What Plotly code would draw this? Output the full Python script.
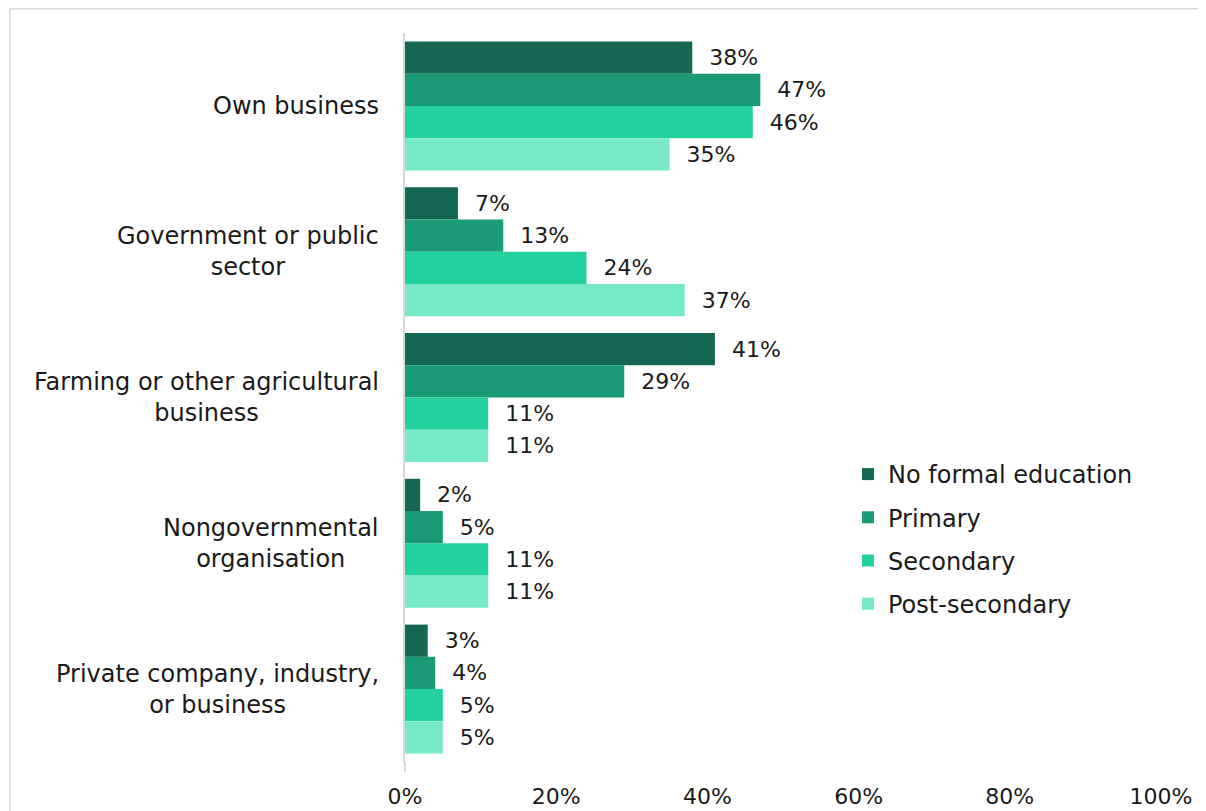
import plotly.graph_objects as go

categories = ["Own business", "Government or public<br>sector",
              "Farming or other agricultural<br>business",
              "Nongovernmental<br>organisation",
              "Private company, industry,<br>or business"]
series_names = ["No formal education", "Primary", "Secondary", "Post-secondary"]
no_formal = [38, 7, 41, 2, 3]
primary = [47, 13, 29, 5, 4]
secondary = [46, 24, 11, 11, 5]
post_secondary = [35, 37, 11, 11, 5]
series_values = [no_formal, primary, secondary, post_secondary]
colors = ["#146853", "#1b9a78", "#23d19f", "#75e9c8"]
x_ticks = [0, 20, 40, 60, 80, 100]
x_tick_labels = ["0%", "20%", "40%", "60%", "80%", "100%"]

FONT = "DejaVu Sans"
TXT = "#1a1a1a"

# page offset of the figure (body margin)
OFF = 8
FW, FH = 1206 - OFF, 811 - OFF
L, T, W, H = 405, 33, 756, 729   # plot area in page pixels


def px(x):
    return (x - L) / W


def py(y):
    return (T + H - y) / H


fig = go.Figure()
for name, vals, col in zip(series_names, series_values, colors):
    fig.add_trace(go.Bar(
        y=list(range(len(categories))), x=vals, name=name, orientation="h",
        marker=dict(color=col, line=dict(width=0)),
        text=["\u00a0\u00a0" + f"{v}%" for v in vals],
        textposition="outside", cliponaxis=False,
        textfont=dict(family=FONT, size=22, color=TXT),
        legendgroup=name,
    ))

annotations = []
for i, c in enumerate(categories):
    annotations.append(dict(
        x=0, xref="paper", y=i, yref="y", xanchor="right", yanchor="middle",
        xshift=-24, text=c, showarrow=False, align="center",
        font=dict(family=FONT, size=24, color=TXT)))

fig.update_layout(
    width=FW, height=FH,
    margin=dict(l=L - OFF, r=FW - (L - OFF) - W, t=T - OFF, b=FH - (T - OFF) - H,
                autoexpand=False),
    paper_bgcolor="white", plot_bgcolor="white",
    barmode="group", bargap=0.115, bargroupgap=0,
    showlegend=True,
    legend=dict(x=px(848), y=py(452), xanchor="left", yanchor="top",
                font=dict(family=FONT, size=24, color=TXT),
                tracegroupgap=9, traceorder="grouped",
                bgcolor="rgba(0,0,0,0)"),
    xaxis=dict(range=[0, 100], tickvals=x_ticks, ticktext=x_tick_labels,
               showgrid=False, zeroline=False, showline=False,
               ticks="outside", ticklen=15, tickcolor="rgba(0,0,0,0)",
               automargin=False,
               tickfont=dict(family=FONT, size=22, color=TXT)),
    yaxis=dict(range=[len(categories) - 0.5, -0.5], showticklabels=False,
               showgrid=False, zeroline=False, showline=True, automargin=False,
               linecolor="#d9d9d9", linewidth=2, ticks=""),
    annotations=annotations,
    shapes=[
        dict(type="line", xref="paper", yref="paper", x0=0, x1=0,
             y0=0, y1=py(772), line=dict(color="#d9d9d9", width=2)),
        dict(type="line", xref="paper", yref="paper", x0=px(10), x1=px(1230),
             y0=py(OFF + 0.8), y1=py(OFF + 0.8),
             line=dict(color="#d9d9d9", width=1.5), layer="below"),
        dict(type="line", xref="paper", yref="paper", x0=px(10), x1=px(10),
             y0=py(830), y1=py(OFF + 0.8),
             line=dict(color="#d9d9d9", width=1.5), layer="below"),
    ],
    font=dict(family=FONT),
)

fig.write_html("out.html")
